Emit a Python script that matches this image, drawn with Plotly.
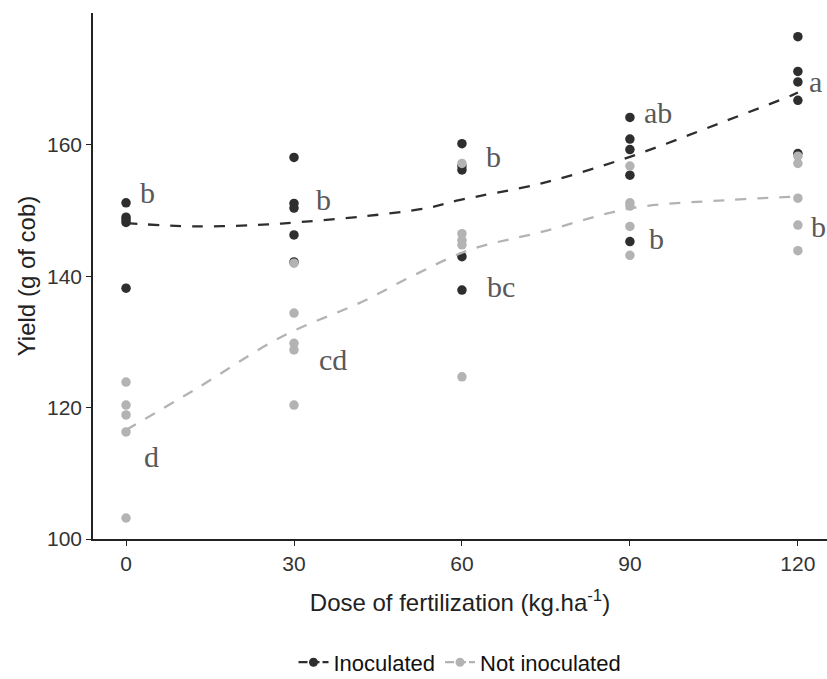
import plotly.graph_objects as go

# ---- data ----
doses = [0, 30, 60, 90, 120]

inoc_x = [0]*5 + [30]*5 + [60]*5 + [90]*5 + [120]*5
inoc_y = [151.2, 149.0, 148.6, 148.2, 138.2,
          158.1, 151.1, 150.4, 146.3, 142.2,
          160.2, 156.8, 156.2, 143.0, 137.9,
          164.2, 160.9, 159.3, 155.4, 145.3,
          176.5, 171.2, 169.6, 166.8, 158.7]

notinoc_x = [0]*5 + [30]*5 + [60]*5 + [90]*5 + [120]*5
notinoc_y = [123.9, 120.4, 118.9, 116.3, 103.2,
             142.0, 134.4, 129.8, 128.8, 120.4,
             157.2, 146.5, 145.5, 144.8, 124.7,
             156.8, 151.2, 150.7, 147.6, 143.2,
             158.3, 157.2, 151.9, 147.8, 143.9]

# smoothed (loess) curves
inoc_fit_x = [0, 12.3, 25.3, 30.1, 42.1, 53.8, 59.5, 74.4, 90.0, 106.0, 119.0, 120]
inoc_fit_y = [148.1, 147.6, 147.9, 148.2, 149.1, 150.4, 151.6, 154.2, 158.2, 163.3, 167.6, 168.0]

notinoc_fit_x = [0, 12.2, 27.8, 42.1, 51.5, 61.3, 74.4, 90.4, 107.2, 118.5, 120]
notinoc_fit_y = [116.6, 122.7, 130.8, 136.1, 140.2, 144.0, 146.8, 150.4, 151.6, 152.1, 152.2]

# significance letters
letters = ["b", "d", "b", "cd", "b", "bc", "ab", "b", "a", "b"]
letters_x = [3.75, 4.5, 35.2, 36.9, 65.7, 66.9, 95.1, 94.8, 123.2, 123.75]
letters_y = [152.8, 112.6, 151.7, 127.4, 158.3, 138.5, 164.9, 145.7, 169.7, 147.6]

y_ticks = [100, 120, 140, 160]

DARK = "#2e2e2e"
LIGHT = "#b3b3b3"

fig = go.Figure()

fig.add_trace(go.Scatter(x=inoc_x, y=inoc_y, mode="markers", cliponaxis=False,
                         marker=dict(color=DARK, size=9.5), showlegend=False, hoverinfo="skip"))
fig.add_trace(go.Scatter(x=notinoc_x, y=notinoc_y, mode="markers", cliponaxis=False,
                         marker=dict(color=LIGHT, size=9.5), showlegend=False, hoverinfo="skip"))
fig.add_trace(go.Scatter(x=inoc_fit_x, y=inoc_fit_y, mode="lines",
                         line=dict(color=DARK, width=2.3, dash="11px,11px", shape="spline"),
                         showlegend=False, hoverinfo="skip"))
fig.add_trace(go.Scatter(x=notinoc_fit_x, y=notinoc_fit_y, mode="lines",
                         line=dict(color=LIGHT, width=2.3, dash="11px,11px", shape="spline"),
                         showlegend=False, hoverinfo="skip"))

# legend entries
fig.add_trace(go.Scatter(x=[None], y=[None], mode="lines+markers", name="Inoculated",
                         line=dict(color=DARK, width=2.3, dash="9px,3px"),
                         marker=dict(color=DARK, size=9)))
fig.add_trace(go.Scatter(x=[None], y=[None], mode="lines+markers", name="Not inoculated",
                         line=dict(color=LIGHT, width=2.3, dash="9px,3px"),
                         marker=dict(color=LIGHT, size=9)))

for t, xv, yv in zip(letters, letters_x, letters_y):
    fig.add_annotation(x=xv, y=yv, text=t, showarrow=False, xanchor="center", yanchor="middle",
                       font=dict(family="Liberation Serif", size=30, color="#595959"))

axis_font = dict(family="Liberation Sans", size=21, color="#333333")
title_font = dict(family="Liberation Sans", size=24, color="#222222")

fig.update_layout(
    width=827, height=679,
    margin=dict(l=93, r=0, t=13, b=140, autoexpand=False),
    paper_bgcolor="white", plot_bgcolor="white",
    font=dict(family="Liberation Sans", size=16, color="#222222"),
    showlegend=True,
    legend=dict(orientation="h", x=0.5, xanchor="center", y=-0.2346, yanchor="middle",
                font=dict(family="Liberation Sans", size=22, color="#111111"),
                itemwidth=30, tracegroupgap=0),
    xaxis=dict(range=[-5.9, 125.2], tickvals=doses, ticktext=[str(d) for d in doses],
               automargin=False,
               showgrid=False, zeroline=False, showline=True, linecolor="#222222", linewidth=1.5,
               ticks="outside", ticklen=5, tickcolor="#222222", tickfont=axis_font,
               ticklabeloverflow="allow",
               title=dict(text="Dose of fertilization (kg.ha<sup>-1</sup>)",
                          font=title_font, standoff=20)),
    yaxis=dict(range=[100, 180.1], tickvals=y_ticks, automargin=False,
               showgrid=False, zeroline=False, showline=True, linecolor="#222222", linewidth=1.5,
               ticks="outside", ticklen=5, tickcolor="#222222", tickfont=axis_font,
               title=dict(text="Yield (g of cob)", font=title_font, standoff=5)),
)

fig.write_html("out.html")
